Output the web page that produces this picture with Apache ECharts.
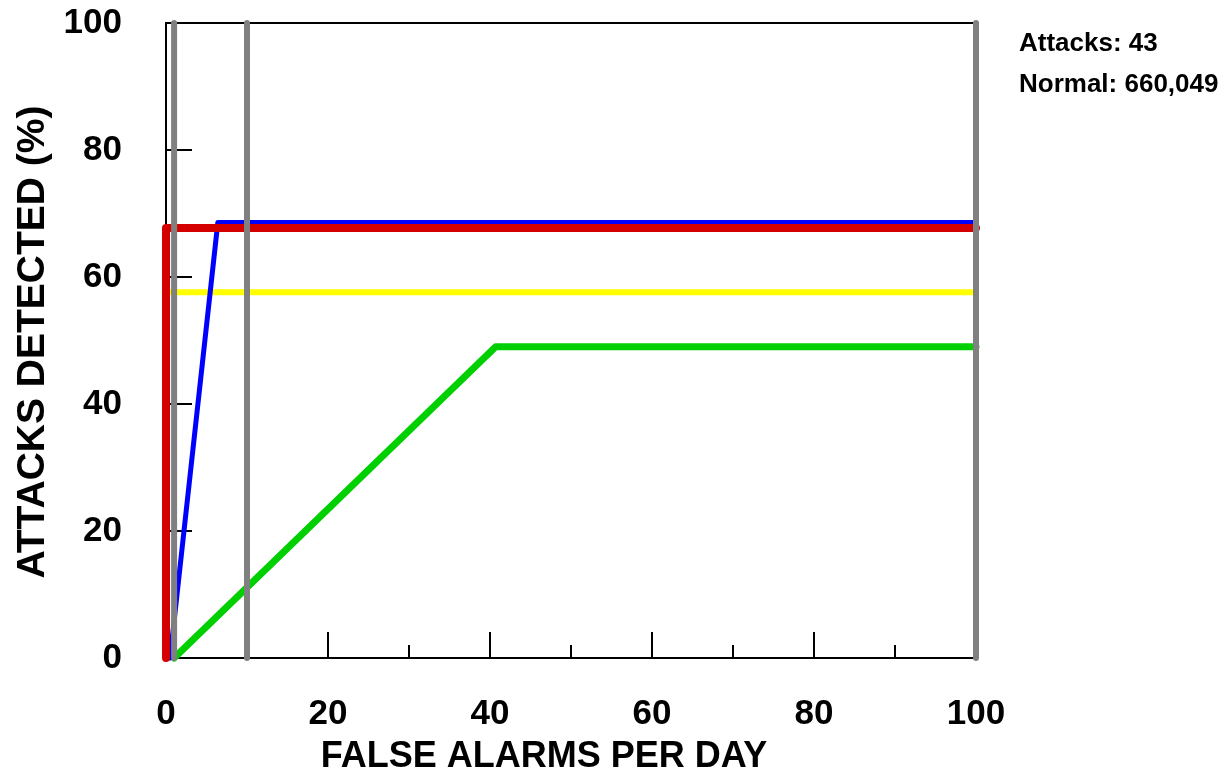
<!DOCTYPE html>
<html>
<head>
<meta charset="utf-8">
<script src="https://cdn.jsdelivr.net/npm/echarts@6/dist/echarts.min.js"></script>
<style>
  html, body { margin: 0; padding: 0; background: #fff; }
  #chart { width: 1220px; height: 775px; }
</style>
</head>
<body>
<div id="chart"></div>
<script>
  // detection curves (false alarms per day, % attacks detected)
  var redX = [0, 0, 100];
  var redY = [0, 67.7, 67.7];
  var blueX = [0.5, 6.4, 100];
  var blueY = [0, 68.6, 68.6];
  var yellowX = [0, 0, 100];
  var yellowY = [0, 57.6, 57.6];
  var greenX = [1, 40.7, 100];
  var greenY = [0, 49, 49];

  // gray reference verticals
  var refX = [1, 10, 100];

  var xTicks = [0, 20, 40, 60, 80, 100];
  var yTicks = [0, 20, 40, 60, 80, 100];

  var notes = ['Attacks: 43', 'Normal: 660,049'];

  function pairs(xs, ys) {
    var out = [];
    for (var i = 0; i < xs.length; i++) {
      out.push([xs[i], ys[i]]);
    }
    return out;
  }

  function curve(name, xs, ys, color, width) {
    return {
      name: name,
      type: 'line',
      data: pairs(xs, ys),
      symbol: 'none',
      clip: false,
      animation: false,
      lineStyle: { color: color, width: width, cap: 'round', join: 'round' }
    };
  }

  var chart = echarts.init(document.getElementById('chart'));

  var series = [
    curve('yellow', yellowX, yellowY, '#ffff00', 6),
    curve('green', greenX, greenY, '#00d000', 7),
    curve('blue', blueX, blueY, '#0000ff', 5),
    curve('red', redX, redY, '#d40000', 8)
  ];

  refX.forEach(function (x) {
    var s = curve('ref' + x, [x, x], [yTicks[0], yTicks[yTicks.length - 1]], '#808080', 6);
    s.z = 5;
    series.push(s);
  });

  var font = 'Liberation Sans, Arial, sans-serif';

  var option = {
    animation: false,
    grid: {
      left: 166, right: 244, top: 23, bottom: 117,
      show: true, borderColor: '#000', borderWidth: 2
    },
    xAxis: {
      type: 'value',
      min: xTicks[0], max: xTicks[xTicks.length - 1], interval: 20,
      splitLine: { show: false },
      axisLine: { show: true, lineStyle: { color: '#000', width: 2 } },
      axisTick: { show: true, inside: true, length: 26, lineStyle: { color: '#000', width: 2 } },
      minorTick: { show: true, splitNumber: 2, length: 13, lineStyle: { color: '#000', width: 2 } },
      axisLabel: {
        margin: 39, color: '#000', fontSize: 35, fontWeight: 'bold', fontFamily: font
      }
    },
    yAxis: {
      type: 'value',
      min: yTicks[0], max: yTicks[yTicks.length - 1], interval: 20,
      splitLine: { show: false },
      axisLine: { show: true, lineStyle: { color: '#000', width: 2 } },
      axisTick: { show: true, inside: true, length: 26, lineStyle: { color: '#000', width: 2 } },
      axisLabel: {
        margin: 44, color: '#000', fontSize: 35, fontWeight: 'bold', fontFamily: font
      }
    },
    graphic: [
      {
        type: 'text', x: 544, y: 757,
        style: {
          text: 'FALSE ALARMS PER DAY', align: 'center', verticalAlign: 'middle',
          fill: '#000', fontSize: 36, fontWeight: 'bold', fontFamily: font
        }
      },
      {
        type: 'text', x: 33, y: 342, rotation: Math.PI / 2,
        style: {
          text: 'ATTACKS DETECTED (%)', align: 'center', verticalAlign: 'middle',
          fill: '#000', fontSize: 39, fontWeight: 'bold', fontFamily: font
        }
      },
      {
        type: 'text', x: 1019, y: 44,
        style: {
          text: notes[0], align: 'left', verticalAlign: 'middle',
          fill: '#000', fontSize: 26, fontWeight: 'bold', fontFamily: font
        }
      },
      {
        type: 'text', x: 1019, y: 85,
        style: {
          text: notes[1], align: 'left', verticalAlign: 'middle',
          fill: '#000', fontSize: 26, fontWeight: 'bold', fontFamily: font
        }
      }
    ],
    series: series
  };

  chart.setOption(option);
</script>
</body>
</html>
